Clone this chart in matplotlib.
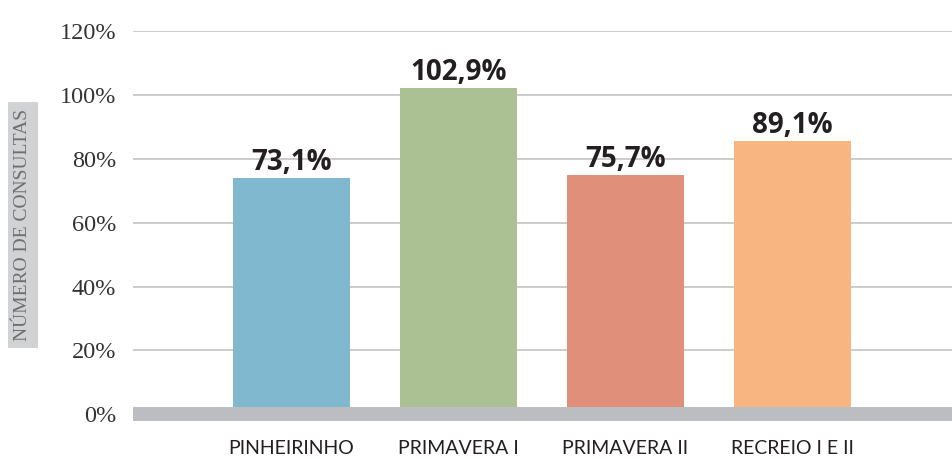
import matplotlib
import matplotlib.pyplot as plt
import numpy as np

matplotlib.use('Agg')

# Data
categories = ['PINHEIRINHO', 'PRIMAVERA I', 'PRIMAVERA II', 'RECREIO I E II']
bar_heights = [74.0, 102.1, 74.8, 85.5]  # drawn bar heights (%)
value_labels = ['73,1%', '102,9%', '75,7%', '89,1%']
colors = ['#7fb8cf', '#abc193', '#e0907a', '#f9b581']
y_ticks = [0, 20, 40, 60, 80, 100, 120]

fig = plt.figure(figsize=(9.52, 4.59), dpi=100)
ax = fig.add_axes([133 / 952, 1 - 421 / 459, 1 - 133 / 952, (421 - 31) / 459])

x = np.arange(len(categories))
ax.bar(x, bar_heights, width=0.70, color=colors, zorder=2)

# grey baseline band
ax.axhspan(-2.1, 2.3, color='#bcbdc0', zorder=3, lw=0)

for xi, h, lab in zip(x, bar_heights, value_labels):
    ax.annotate(lab, (xi, h), xytext=(0, 1), textcoords='offset points',
                ha='center', va='bottom', fontsize=20, fontweight='bold',
                family='Open Sans', color='#231f20')

ax.set_xlim(-0.949, 3.955)
ax.set_ylim(-2.1, 120)
ax.set_yticks(y_ticks)
ax.set_yticklabels([f'{t}%' for t in y_ticks], family='Liberation Serif',
                   fontsize=17.5, color='#333333')
ax.yaxis.grid(True, color='#c8c8c8', lw=1.3, zorder=0)
ax.set_axisbelow(True)
ax.tick_params(axis='y', length=0, pad=12)

ax.set_xticks(x)
ax.set_xticklabels(categories, family='Lato', fontsize=14, color='#231f20')
ax.tick_params(axis='x', length=0, pad=14)

for s in ax.spines.values():
    s.set_visible(False)

fig.text(23 / 952, 1 - 225 / 459, 'NÚMERO DE CONSULTAS', rotation=90,
         ha='center', va='center', family='Liberation Serif', fontsize=14,
         color='#6d6e71',
         bbox=dict(boxstyle='square,pad=0.35', fc='#d1d2d4', ec='none'))

fig.savefig('out.png', dpi=100)
plt.close()
